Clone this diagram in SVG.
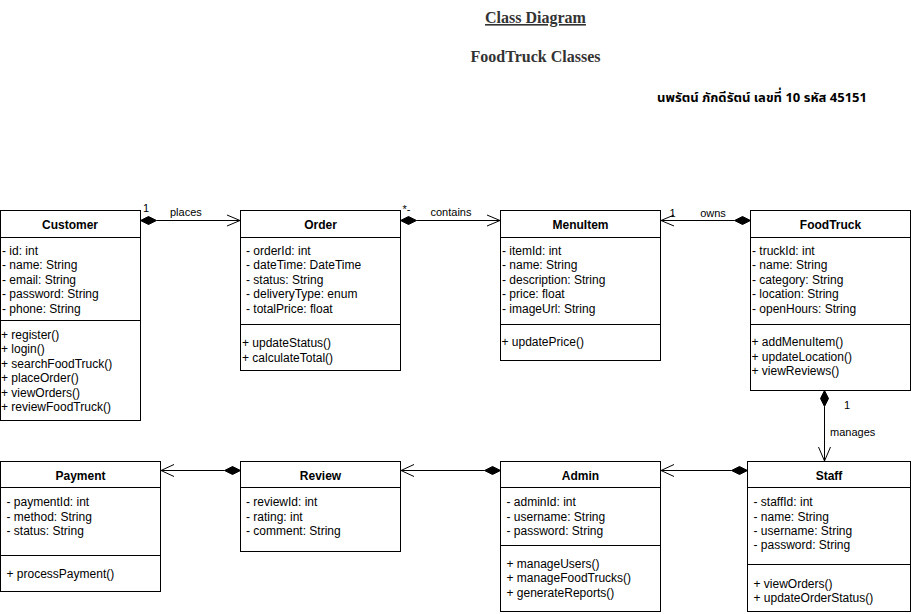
<svg xmlns="http://www.w3.org/2000/svg" width="911" height="614" viewBox="0 0 911 614">
<style>
.box{fill:#fff;stroke:#000;stroke-width:1}
.sep{stroke:#000;stroke-width:1}
.t{font-family:"Liberation Sans",Arial,sans-serif;font-size:12px;fill:#000}
.h{font-family:"Liberation Sans",Arial,sans-serif;font-size:12px;font-weight:bold;fill:#000;text-anchor:middle}
.lbl{font-family:"Liberation Sans",Arial,sans-serif;font-size:11px;fill:#000}
.ttl{font-family:"Liberation Serif","Times New Roman",serif;font-size:16px;font-weight:bold;fill:#333;text-anchor:middle}
.ln{stroke:#000;stroke-width:1;fill:none}
.dia{fill:#000;stroke:#000;stroke-width:1}
.arr{fill:none;stroke:#000;stroke-width:1}
</style>
<rect width="911" height="614" fill="#fff"/>
<g id="title">
<text class="ttl" x="535.5" y="23" text-decoration="underline">Class Diagram</text>
<text class="ttl" x="535.5" y="62">FoodTruck Classes</text>
<text x="657" y="101.5" font-family="'Noto Sans Thai','Noto Sans','DejaVu Sans',sans-serif" font-size="13" font-weight="bold" fill="#000" textLength="210" lengthAdjust="spacingAndGlyphs">นพรัตน์ ภักดีรัตน์ เลขที่ 10 รหัส 45151</text>
</g>
<g id="connectors">
<!-- Customer -> Order -->
<line class="ln" x1="156.5" y1="220.5" x2="240" y2="220.5"/>
<polygon class="dia" points="140.5,220.5 148.5,216.5 156.5,220.5 148.5,224.5"/>
<polyline class="arr" points="227,215 240,220.5 227,226"/>
<text class="lbl" x="143" y="212" font-size="10">1</text>
<text class="lbl" x="170" y="215.5">places</text>
<!-- Order -> MenuItem -->
<line class="ln" x1="416.5" y1="220.5" x2="500" y2="220.5"/>
<polygon class="dia" points="400.5,220.5 408.5,216.5 416.5,220.5 408.5,224.5"/>
<polyline class="arr" points="487,215 500,220.5 487,226"/>
<text class="lbl" x="402.5" y="213" font-size="10">*-</text>
<text class="lbl" x="451" y="216" text-anchor="middle">contains</text>
<!-- FoodTruck -> MenuItem -->
<line class="ln" x1="661" y1="220.5" x2="734.5" y2="220.5"/>
<polygon class="dia" points="750.5,220.5 742.5,216.5 734.5,220.5 742.5,224.5"/>
<polyline class="arr" points="674,215 661,220.5 674,226"/>
<text class="lbl" x="669.5" y="216.5">1</text>
<text class="lbl" x="713" y="216.5" text-anchor="middle">owns</text>
<!-- FoodTruck -> Staff -->
<line class="ln" x1="824.5" y1="406.5" x2="824.5" y2="461"/>
<polygon class="dia" points="824.5,390.5 828.5,398.5 824.5,406.5 820.5,398.5"/>
<polyline class="arr" points="818.5,447 824.5,461 830.5,447"/>
<text class="lbl" x="844" y="408.5">1</text>
<text class="lbl" x="830" y="435.5">manages</text>
<!-- Staff -> Admin -->
<line class="ln" x1="661" y1="470.5" x2="731.5" y2="470.5"/>
<polygon class="dia" points="747.5,470.5 739.5,466.5 731.5,470.5 739.5,474.5"/>
<polyline class="arr" points="674,464.5 661,470.5 674,476.5"/>
<!-- Admin -> Review -->
<line class="ln" x1="401" y1="470.5" x2="484.5" y2="470.5"/>
<polygon class="dia" points="500.5,470.5 492.5,466.5 484.5,470.5 492.5,474.5"/>
<polyline class="arr" points="414,464.5 401,470.5 414,476.5"/>
<!-- Review -> Payment -->
<line class="ln" x1="161" y1="470.5" x2="224.5" y2="470.5"/>
<polygon class="dia" points="240.5,470.5 232.5,466.5 224.5,470.5 232.5,474.5"/>
<polyline class="arr" points="174,464.5 161,470.5 174,476.5"/>
</g>
<g id="Customer">
<rect class="box" x="0.5" y="210.5" width="140" height="210"/>
<line class="sep" x1="0.5" y1="237.5" x2="140.5" y2="237.5"/>
<line class="sep" x1="0.5" y1="320.5" x2="140.5" y2="320.5"/>
<text class="h" x="70" y="228.5">Customer</text>
<text class="t" x="2"><tspan x="2" y="254.5">- id: int</tspan><tspan x="2" y="269">- name: String</tspan><tspan x="2" y="283.5">- email: String</tspan><tspan x="2" y="298">- password: String</tspan><tspan x="2" y="312.5">- phone: String</tspan></text>
<text class="t" x="1"><tspan x="1" y="338.8">+ register()</tspan><tspan x="1" y="353.3">+ login()</tspan><tspan x="1" y="367.8">+ searchFoodTruck()</tspan><tspan x="1" y="382.3">+ placeOrder()</tspan><tspan x="1" y="396.8">+ viewOrders()</tspan><tspan x="1" y="411.3">+ reviewFoodTruck()</tspan></text>
</g>
<g id="Order">
<rect class="box" x="240.5" y="210.5" width="160" height="160"/>
<line class="sep" x1="240.5" y1="237.5" x2="400.5" y2="237.5"/>
<line class="sep" x1="240.5" y1="324.5" x2="400.5" y2="324.5"/>
<text class="h" x="320.5" y="228.5">Order</text>
<text class="t"><tspan x="246" y="254.5">- orderId: int</tspan><tspan x="246" y="269">- dateTime: DateTime</tspan><tspan x="246" y="283.5">- status: String</tspan><tspan x="246" y="298">- deliveryType: enum</tspan><tspan x="246" y="312.5">- totalPrice: float</tspan></text>
<text class="t"><tspan x="242" y="347.2">+ updateStatus()</tspan><tspan x="242" y="361.7">+ calculateTotal()</tspan></text>
</g>
<g id="MenuItem">
<rect class="box" x="500.5" y="210.5" width="160" height="150"/>
<line class="sep" x1="500.5" y1="237.5" x2="660.5" y2="237.5"/>
<line class="sep" x1="500.5" y1="324.5" x2="660.5" y2="324.5"/>
<text class="h" x="580.5" y="228.5">MenuItem</text>
<text class="t"><tspan x="502" y="254.5">- itemId: int</tspan><tspan x="502" y="269">- name: String</tspan><tspan x="502" y="283.5">- description: String</tspan><tspan x="502" y="298">- price: float</tspan><tspan x="502" y="312.5">- imageUrl: String</tspan></text>
<text class="t"><tspan x="501.5" y="346.2">+ updatePrice()</tspan></text>
</g>
<g id="FoodTruck">
<rect class="box" x="750.5" y="210.5" width="160" height="180"/>
<line class="sep" x1="750.5" y1="237.5" x2="910.5" y2="237.5"/>
<line class="sep" x1="750.5" y1="324.5" x2="910.5" y2="324.5"/>
<text class="h" x="830.5" y="228.5">FoodTruck</text>
<text class="t"><tspan x="752" y="254.5">- truckId: int</tspan><tspan x="752" y="269">- name: String</tspan><tspan x="752" y="283.5">- category: String</tspan><tspan x="752" y="298">- location: String</tspan><tspan x="752" y="312.5">- openHours: String</tspan></text>
<text class="t"><tspan x="751.5" y="346.2">+ addMenuItem()</tspan><tspan x="751.5" y="360.7">+ updateLocation()</tspan><tspan x="751.5" y="375.2">+ viewReviews()</tspan></text>
</g>
<g id="Payment">
<rect class="box" x="0.5" y="461.5" width="160" height="130"/>
<line class="sep" x1="0.5" y1="487.5" x2="160.5" y2="487.5"/>
<line class="sep" x1="0.5" y1="555.5" x2="160.5" y2="555.5"/>
<text class="h" x="80.5" y="480.3">Payment</text>
<text class="t"><tspan x="6.5" y="506.2">- paymentId: int</tspan><tspan x="6.5" y="520.6">- method: String</tspan><tspan x="6.5" y="535">- status: String</tspan></text>
<text class="t"><tspan x="6.5" y="577.8">+ processPayment()</tspan></text>
</g>
<g id="Review">
<rect class="box" x="240.5" y="461.5" width="160" height="90"/>
<line class="sep" x1="240.5" y1="487.5" x2="400.5" y2="487.5"/>
<text class="h" x="320.5" y="480.3">Review</text>
<text class="t"><tspan x="246" y="506.2">- reviewId: int</tspan><tspan x="246" y="520.6">- rating: int</tspan><tspan x="246" y="535">- comment: String</tspan></text>
</g>
<g id="Admin">
<rect class="box" x="500.5" y="461.5" width="160" height="150"/>
<line class="sep" x1="500.5" y1="487.5" x2="660.5" y2="487.5"/>
<line class="sep" x1="500.5" y1="545.5" x2="660.5" y2="545.5"/>
<text class="h" x="580.5" y="480.3">Admin</text>
<text class="t"><tspan x="506.5" y="506.2">- adminId: int</tspan><tspan x="506.5" y="520.6">- username: String</tspan><tspan x="506.5" y="535">- password: String</tspan></text>
<text class="t"><tspan x="506.5" y="567.8">+ manageUsers()</tspan><tspan x="506.5" y="582.3">+ manageFoodTrucks()</tspan><tspan x="506.5" y="596.8">+ generateReports()</tspan></text>
</g>
<g id="Staff">
<rect class="box" x="747.5" y="461.5" width="163" height="150"/>
<line class="sep" x1="747.5" y1="487.5" x2="910.5" y2="487.5"/>
<line class="sep" x1="747.5" y1="564.5" x2="910.5" y2="564.5"/>
<text class="h" x="829" y="480.3">Staff</text>
<text class="t"><tspan x="753.5" y="506.2">- staffId: int</tspan><tspan x="753.5" y="520.6">- name: String</tspan><tspan x="753.5" y="535">- username: String</tspan><tspan x="753.5" y="549.4">- password: String</tspan></text>
<text class="t"><tspan x="753.5" y="587.8">+ viewOrders()</tspan><tspan x="753.5" y="602.3">+ updateOrderStatus()</tspan></text>
</g>
</svg>
